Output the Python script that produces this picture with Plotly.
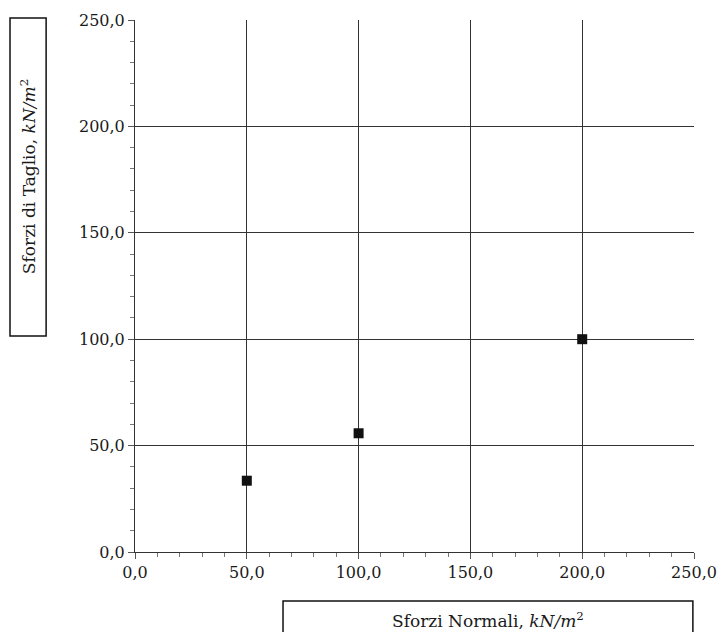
import plotly.graph_objects as go

sforzi_normali = [50.0, 100.0, 200.0]
sforzi_taglio = [33.5, 55.8, 100.0]
tick_vals = [0, 50, 100, 150, 200, 250]
tick_text = ["0,0", "50,0", "100,0", "150,0", "200,0", "250,0"]

FONT = "DejaVu Serif"

fig = go.Figure()
fig.add_trace(go.Scatter(
    x=sforzi_normali, y=sforzi_taglio, mode="markers",
    marker=dict(symbol="square", size=10, color="#111111"),
    showlegend=False, cliponaxis=False))

axis_common = dict(
    range=[0, 250], tickvals=tick_vals, ticktext=tick_text,
    showgrid=True, gridcolor="#333333", gridwidth=1,
    showline=True, linecolor="#333333", linewidth=1, mirror=False,
    ticks="outside", ticklen=6, tickcolor="#555555",
    tickfont=dict(family=FONT, size=16, color="#1a1a1a"),
    minor=dict(dtick=10, ticks="outside", ticklen=4, tickcolor="#777777", showgrid=False),
    zeroline=False, fixedrange=True, automargin=False,
)
fig.update_xaxes(**axis_common)
fig.update_yaxes(**axis_common)

fig.update_layout(
    width=721, height=632,
    margin=dict(l=135, r=27, t=20, b=80),
    paper_bgcolor="white", plot_bgcolor="white",
    font=dict(family=FONT, color="#1a1a1a"),
    shapes=[
        dict(type="rect", xref="paper", yref="paper",
             x0=-0.2236, x1=-0.159, y0=0.406, y1=1.0038,
             line=dict(color="#111111", width=1.5)),
        dict(type="rect", xref="paper", yref="paper",
             x0=0.2648, x1=0.998, y0=-0.17, y1=-0.0921,
             line=dict(color="#111111", width=1.5)),
    ],
    annotations=[
        dict(text="Sforzi di Taglio, <i>kN/m</i><sup>2</sup>", xref="paper", yref="paper",
             x=-0.191, y=0.705, xanchor="center", yanchor="middle",
             textangle=-90, showarrow=False,
             font=dict(family=FONT, size=17, color="#1a1a1a")),
        dict(text="Sforzi Normali, <i>kN/m</i><sup>2</sup>", xref="paper", yref="paper",
             x=0.631, y=-0.128, xanchor="center", yanchor="middle", showarrow=False,
             font=dict(family=FONT, size=17, color="#1a1a1a")),
    ],
)

fig.write_html("out.html")
